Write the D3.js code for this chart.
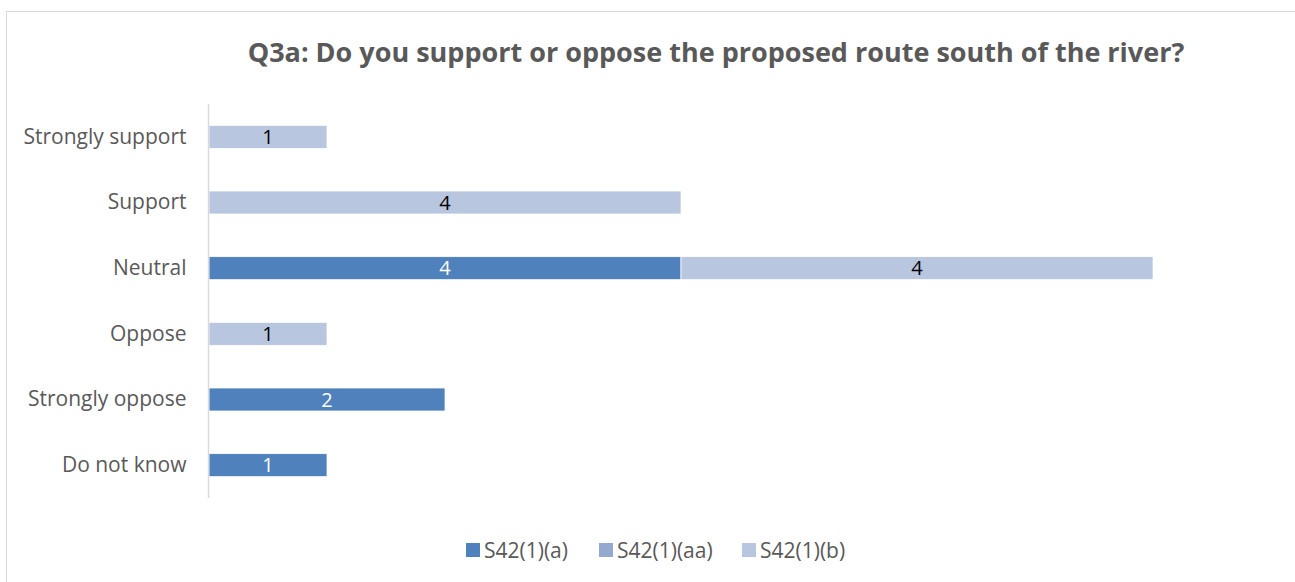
<!DOCTYPE html>
<html>
<head>
<meta charset="utf-8">
<script src="https://cdn.jsdelivr.net/npm/d3@7"></script>
<style>
  html, body { margin: 0; padding: 0; background: #fff; }
  svg { display: block; font-family: "Open Sans", Lato, "Liberation Sans", sans-serif; }
</style>
</head>
<body>
<svg id="chart" width="1295" height="582"></svg>
<script>
// Response categories, top to bottom
const categories = ["Strongly support", "Support", "Neutral", "Oppose", "Strongly oppose", "Do not know"];
// Series names (legend order / stacking order)
const seriesNames = ["S42(1)(a)", "S42(1)(aa)", "S42(1)(b)"];
// Counts per category for each series
const valuesA  = [0, 0, 4, 0, 2, 1];
const valuesAA = [0, 0, 0, 0, 0, 0];
const valuesB  = [1, 4, 4, 1, 0, 0];
const colors = ["#4F81BD", "#95A9D0", "#B9C6E0"];
const labelColors = ["#ffffff", "#000000", "#000000"];
const titleText = "Q3a: Do you support or oppose the proposed route south of the river?";

const svg = d3.select("#chart");

// outer chart frame
svg.append("rect")
  .attr("x", 6.5).attr("y", 11.5)
  .attr("width", 1300).attr("height", 600)
  .attr("fill", "#fff").attr("stroke", "#D9D9D9").attr("stroke-width", 1);

svg.append("text")
  .attr("x", 716).attr("y", 62)
  .attr("text-anchor", "middle")
  .attr("font-size", 27).attr("font-weight", "bold")
  .attr("fill", "#595959")
  .text(titleText);

const plot = { left: 209, top: 104, bottom: 498 };
const x = d3.scaleLinear().domain([0, 8]).range([plot.left, plot.left + 944]);
const y = d3.scaleBand().domain(categories).range([plot.top, plot.bottom]).paddingInner(0.65).paddingOuter(0.325);

const rows = categories.map((c, i) => ({ cat: c, [seriesNames[0]]: valuesA[i], [seriesNames[1]]: valuesAA[i], [seriesNames[2]]: valuesB[i] }));
const stacked = d3.stack().keys(seriesNames)(rows);

stacked.forEach((layer, si) => {
  const g = svg.append("g");
  const segs = layer.filter(d => d[1] - d[0] > 0);
  g.selectAll("rect").data(segs).join("rect")
    .attr("x", d => x(d[0]))
    .attr("y", d => y(d.data.cat))
    .attr("width", d => x(d[1]) - x(d[0]))
    .attr("height", y.bandwidth())
    .attr("fill", colors[si])
    .attr("stroke", "#fff").attr("stroke-width", 0.75);
  g.selectAll("text").data(segs).join("text")
    .attr("x", d => (x(d[0]) + x(d[1])) / 2)
    .attr("y", d => y(d.data.cat) + y.bandwidth() / 2)
    .attr("dy", "0.36em")
    .attr("text-anchor", "middle")
    .attr("font-size", 20)
    .attr("fill", labelColors[si])
    .text(d => d[1] - d[0]);
});

// category axis
const yAxis = svg.append("g").attr("transform", `translate(${plot.left - 0.5},0)`)
  .call(d3.axisLeft(y).tickSize(0).tickPadding(22));
yAxis.select(".domain").attr("stroke", "#D9D9D9").attr("stroke-width", 1.5)
  .attr("d", `M0,${plot.top}V${plot.bottom}`);
yAxis.selectAll("text").attr("font-size", 21).attr("fill", "#595959")
  .attr("font-family", "'Open Sans', Lato, sans-serif");

// legend
const legendX = [466, 599, 742];
const legend = svg.append("g");
seriesNames.forEach((s, i) => {
  legend.append("rect").attr("x", legendX[i]).attr("y", 543).attr("width", 14).attr("height", 14).attr("fill", colors[i]);
  legend.append("text").attr("x", legendX[i] + 18).attr("y", 550).attr("dy", "0.36em")
    .attr("font-size", 21).attr("fill", "#595959").text(s);
});
</script>
</body>
</html>
